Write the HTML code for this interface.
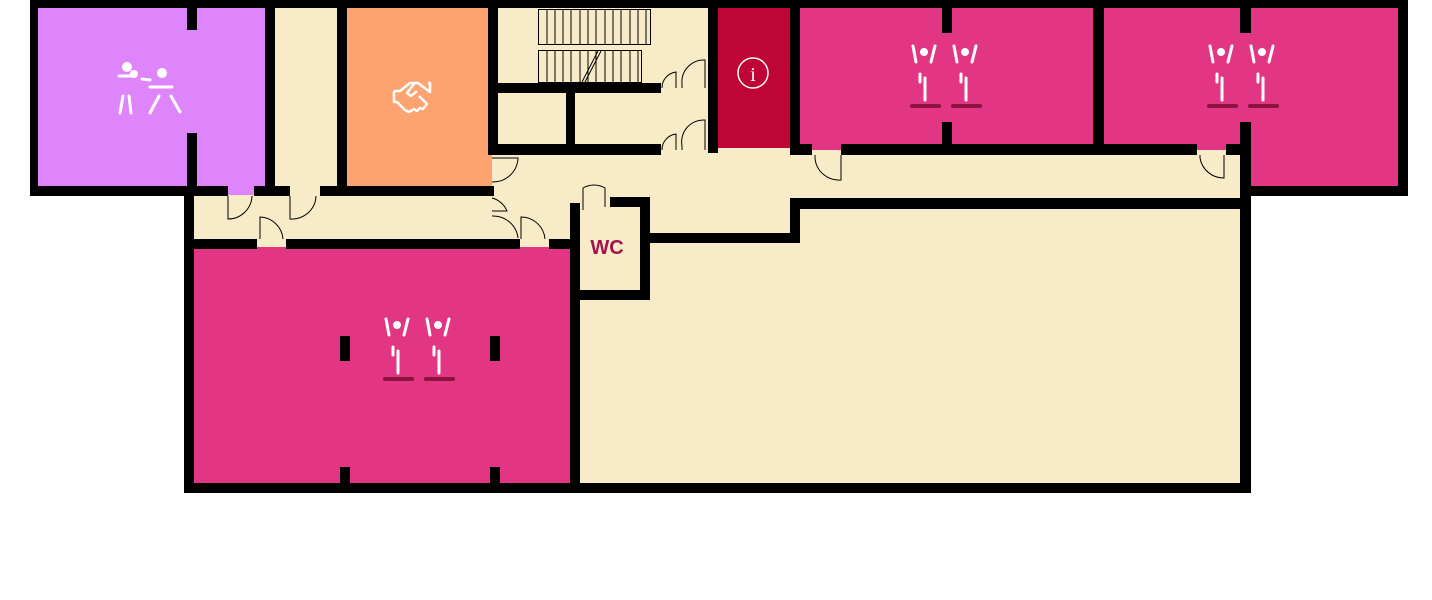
<!DOCTYPE html>
<html><head><meta charset="utf-8"><style>html,body{margin:0;padding:0;background:#fff}svg{display:block}</style></head>
<body>
<svg width="1432" height="600" viewBox="0 0 1432 600" xmlns="http://www.w3.org/2000/svg">
<defs>
<g id="lift">
<circle cx="0" cy="0" r="4" fill="#fff"/>
<line x1="-11" y1="-6" x2="-8" y2="10" stroke="#fff" stroke-width="3" stroke-linecap="round"/>
<line x1="11" y1="-6" x2="7" y2="10" stroke="#fff" stroke-width="3" stroke-linecap="round"/>
<line x1="-4" y1="22" x2="-4" y2="30" stroke="#fff" stroke-width="3" stroke-linecap="round"/>
<line x1="1" y1="26" x2="1" y2="48" stroke="#fff" stroke-width="3" stroke-linecap="round"/>
<rect x="-14" y="52" width="31" height="4" rx="2" fill="#8c1240"/>
</g>
</defs>
<polygon points="265,0 800,0 800,150 1250,150 1250,493 184,493 184,190 265,190" fill="#f8ebc8"/>
<rect x="30" y="0" width="240" height="195" fill="#df85fb"/>
<rect x="342" y="6" width="150" height="182" fill="#fca36f"/>
<rect x="713" y="4" width="82" height="144" fill="#be0535"/>
<rect x="795" y="4" width="305" height="146" fill="#e23583"/>
<rect x="1100" y="4" width="305" height="146" fill="#e23583"/>
<rect x="1245" y="140" width="160" height="50" fill="#e23583"/>
<rect x="189" y="247" width="386" height="241" fill="#e23583"/>
<g stroke="#000" stroke-width="1" fill="none">
<rect x="538.5" y="9.5" width="112" height="35"/>
<rect x="538.5" y="50.5" width="103" height="32"/>
<path d="M547 10V44M555 10V44M563 10V44M571 10V44M580 10V44M588 10V44M596 10V44M605 10V44M613 10V44M621 10V44M630 10V44M638 10V44M646 10V44"/>
<path d="M547 51V82M555 51V82M563 51V82M571 51V82M580 51V82M588 51V82M596 51V82M605 51V82M613 51V82M621 51V82M630 51V82M638 51V82"/>
<path d="M598 51L582 82M601 51L585 82"/>
</g>
<g fill="#000">
<rect x="30" y="0" width="1378" height="8"/>
<rect x="30" y="0" width="8" height="196"/>
<rect x="30" y="186" width="198" height="10"/>
<rect x="187" y="8" width="10" height="22"/>
<rect x="187" y="133" width="10" height="60"/>
<rect x="265" y="0" width="10" height="196"/>
<rect x="254" y="186" width="36" height="10"/>
<rect x="337" y="0" width="10" height="190"/>
<rect x="320" y="186" width="174" height="10"/>
<rect x="488" y="0" width="10" height="155"/>
<rect x="497" y="83" width="164" height="10"/>
<rect x="566" y="93" width="9" height="52"/>
<rect x="488" y="144" width="173" height="11"/>
<rect x="708" y="0" width="10" height="153"/>
<rect x="790" y="0" width="10" height="155"/>
<rect x="790" y="144" width="22" height="11"/>
<rect x="841" y="144" width="356" height="11"/>
<rect x="1226" y="144" width="24" height="11"/>
<rect x="942" y="8" width="10" height="25"/>
<rect x="942" y="122" width="10" height="25"/>
<rect x="1093" y="0" width="11" height="155"/>
<rect x="1240" y="8" width="11" height="25"/>
<rect x="1240" y="122" width="11" height="371"/>
<rect x="1398" y="0" width="10" height="196"/>
<rect x="1240" y="186" width="168" height="10"/>
<rect x="790" y="198" width="460" height="11"/>
<rect x="790" y="198" width="10" height="45"/>
<rect x="640" y="233" width="160" height="10"/>
<rect x="610" y="197" width="40" height="10"/>
<rect x="640" y="197" width="10" height="103"/>
<rect x="570" y="203" width="10" height="290"/>
<rect x="570" y="290" width="80" height="10"/>
<rect x="184" y="196" width="10" height="297"/>
<rect x="184" y="483" width="1066" height="10"/>
<rect x="184" y="239" width="73" height="10"/>
<rect x="286" y="239" width="234" height="10"/>
<rect x="549" y="239" width="21" height="10"/>
<rect x="340" y="336" width="10" height="25"/>
<rect x="340" y="467" width="10" height="18"/>
<rect x="490" y="336" width="10" height="25"/>
<rect x="490" y="467" width="10" height="18"/>
</g>
<g stroke="#000" stroke-width="1" fill="none">
<path d="M228 196V219A24 24 0 0 0 252 196"/>
<path d="M290 196V219A24 24 0 0 0 316 196"/>
<path d="M260 239V217A24 24 0 0 1 283 239"/>
<path d="M521 239V217A24 24 0 0 1 545 239"/>
<path d="M492 158H518A25 25 0 0 1 492 182"/>
<path d="M492 211H507A22 22 0 0 0 492 198"/>
<path d="M492 216A25 25 0 0 1 518 238"/>
<path d="M583 210V188A22 22 0 0 1 605 188V207"/>
<path d="M662 88A16 16 0 0 1 676 72V88M705 88V60A22 22 0 0 0 682 84V88"/>
<path d="M662 150A16 16 0 0 1 676 134V150M705 150V120A22 22 0 0 0 682 146V150"/>
<path d="M815 155V158A24 24 0 0 0 841 180V155"/>
<path d="M1200 155V158A24 24 0 0 0 1224 178V155"/>
</g>
<g fill="#fff" stroke="#fff" stroke-linecap="round">
<circle cx="127" cy="67" r="5" stroke="none"/>
<circle cx="134" cy="74" r="4" stroke="none"/>
<circle cx="162" cy="73" r="5" stroke="none"/>
<line x1="119" y1="76" x2="131" y2="76" stroke-width="3"/>
<line x1="142" y1="79" x2="150" y2="80" stroke-width="3"/>
<line x1="150" y1="87" x2="172" y2="87" stroke-width="3"/>
<line x1="120" y1="113" x2="123" y2="96" stroke-width="3"/>
<line x1="131" y1="113" x2="129" y2="96" stroke-width="3"/>
<line x1="150" y1="113" x2="159" y2="96" stroke-width="3"/>
<line x1="180" y1="112" x2="171" y2="96" stroke-width="3"/>
</g>
<g fill="none" stroke="#fff" stroke-width="2.5" stroke-linejoin="round">
<path d="M394 91h6l10-8h8l12 9v-9h-2M394 91v11h3l8 8 4 2 5-3 3 2 3-3 3 1 4-5-8-8M414 84l-7 9 4 3 6-5"/>
</g>
<circle cx="753" cy="73" r="15" fill="none" stroke="#fff" stroke-width="1.5"/>
<text x="753" y="81" font-family="Liberation Serif, serif" font-size="20" fill="#fff" text-anchor="middle">i</text>
<use href="#lift" x="924" y="52"/>
<use href="#lift" x="965" y="52"/>
<use href="#lift" x="1221" y="52"/>
<use href="#lift" x="1262" y="52"/>
<use href="#lift" x="397" y="325"/>
<use href="#lift" x="438" y="325"/>
<text x="607" y="254" font-family="Liberation Sans, sans-serif" font-weight="bold" font-size="20" fill="#a3124f" text-anchor="middle">WC</text>
</svg>
</body></html>
